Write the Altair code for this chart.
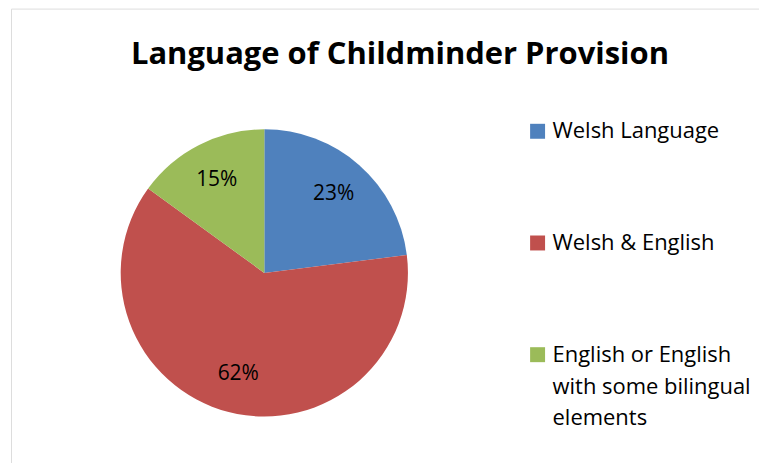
import altair as alt
import pandas as pd

categories = ["Welsh Language", "Welsh & English", "English or English\nwith some bilingual\nelements"]
values = [23, 62, 15]
labels = ["23%", "62%", "15%"]
colors = ["#4F81BD", "#C0504D", "#9BBB59"]

df = pd.DataFrame({
    "category": categories,
    "value": values,
    "label": labels,
    "idx": list(range(len(categories))),
})

FONT = "Open Sans"

base = alt.Chart(df).encode(
    theta=alt.Theta("value:Q", stack=True),
    order=alt.Order("idx:Q"),
)

pie = base.mark_arc(outerRadius=144, strokeWidth=0).encode(
    x=alt.value(254),
    y=alt.value(265),
    color=alt.Color(
        "category:N",
        scale=alt.Scale(domain=categories, range=colors),
        sort=None,
        legend=alt.Legend(
            title=None,
            orient="none",
            legendX=517,
            legendY=112,
            symbolType="square",
            symbolSize=225,
            symbolStrokeWidth=0,
            labelFont=FONT,
            labelFontSize=22,
            labelColor="#000000",
            labelLimit=300,
            labelOffset=4,
            rowPadding=90,
            labelExpr="split(datum.label, '\\n')",
        ),
    ),
)

text = base.mark_text(radius=105, font=FONT, fontSize=21, color="#000000").encode(
    x=alt.value(254),
    y=alt.value(265),
    text="label:N",
)

chart = (
    alt.layer(pie, text)
    .properties(
        width=760,
        height=465,
        padding={"left": 3, "top": 0, "right": -10, "bottom": -10},
        autosize=alt.AutoSizeParams(type="none"),
        title=alt.TitleParams(
            "Language of Childminder Provision",
            font=FONT,
            fontSize=31,
            fontWeight="bold",
            color="#000000",
            anchor="middle",
            offset=-63,
            dx=10,
        ),
    )
    .configure_view(stroke="#868686", strokeWidth=1)
    .configure(background="white", style={"guide-label": {"lineHeight": 32}})
)

chart.save("out.html", embed_options={"renderer": "svg", "actions": False})
